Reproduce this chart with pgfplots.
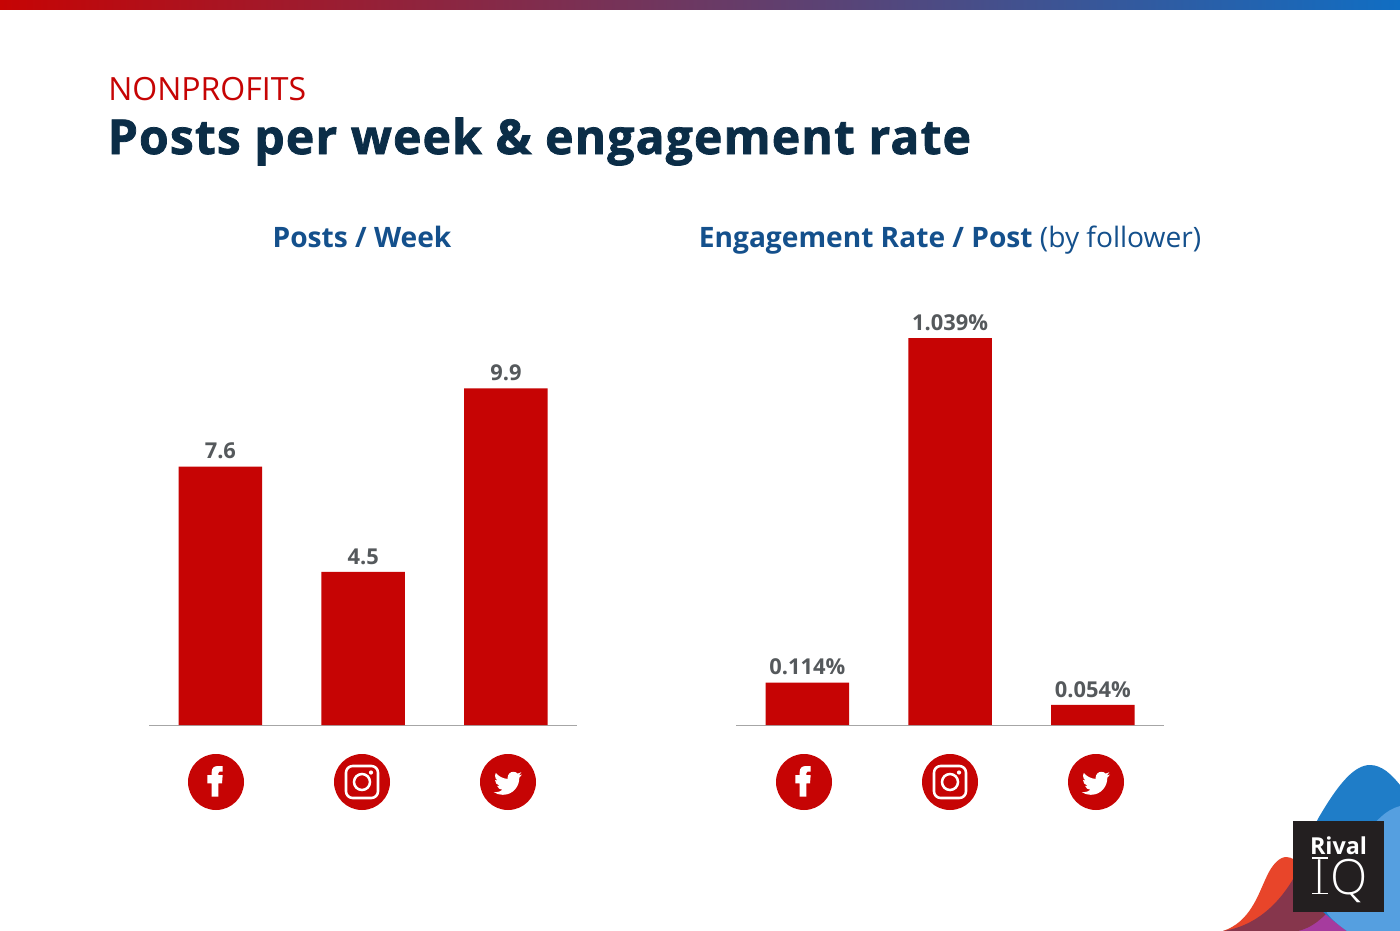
\documentclass[border=0pt]{standalone}
\usepackage{pgfplots}
\pgfplotsset{compat=1.18}
\usepackage{fontspec}
\usetikzlibrary{svg.path}
\setmainfont{Open Sans}
\newfontfamily\xbold[BoldFeatures={FakeBold=1.6,LetterSpace=2.4}]{Open Sans}
\newfontfamily\lightf{Open Sans Light}
\definecolor{barred}{HTML}{C60404}
\definecolor{navy}{HTML}{0B2D47}
\definecolor{sub}{HTML}{14508C}
\definecolor{lbl}{HTML}{55595C}
\newcommand{\fs}[1]{\fontsize{#1}{#1}\selectfont}
\pgfplotstableread{
x y
0 7.6
1 4.5
2 9.9
}\postsdata
\pgfplotstableread{
x y
0 0.114
1 1.039
2 0.054
}\engdata
\pgfplotsset{bars/.style={
  scale only axis, width=321.2pt, height=326.25pt,
  xmin=-0.5, xmax=2.5, ymin=0,
  axis x line=bottom, axis y line=none,
  axis line style={draw=black!35, line width=0.75pt, -},
  xtick=\empty, ytick=\empty, clip=false,
  /pgf/number format/assume math mode=true,
  nodes near coords style={font=\fs{16.4}\bfseries, text=lbl, inner sep=0pt, yshift=5.5pt, anchor=south},
}}
\newcommand{\fbicon}[2]{%
 \fill[barred] (#1,#2) circle (28);
 \begin{scope}[shift={(#1,#2)}]
 \fill[white] (-4.3,14.7) -- (-4.3,1.3) -- (-8.7,1.3) -- (-8.7,-7) -- (-4.3,-7) -- (-4.3,-10)
   .. controls (-4.3,-14) and (-2,-16) .. (2,-16) -- (6.7,-16) -- (6.7,-10.3) -- (3.5,-10.3)
   .. controls (2.6,-10.3) and (2.3,-10) .. (2.3,-9) -- (2.3,-7) -- (6.7,-7) -- (6,1.3) -- (2.3,1.3) -- (2.3,14.7) -- cycle;
 \end{scope}}
\newcommand{\igicon}[2]{%
 \fill[barred] (#1,#2) circle (28);
 \begin{scope}[shift={(#1,#2)}]
 \draw[white, line width=1.9pt, rounded corners=5pt] (-16,-16) rectangle (16,16);
 \draw[white, line width=1.9pt] (0,0) circle (8);
 \fill[white] (9,-9.5) circle (2.1);
 \end{scope}}
\newsavebox{\birdbox}
\newcommand{\twicon}[2]{%
 \fill[barred] (#1,#2) circle (28);
 \node[inner sep=0pt] at (#1,#2+1.3) {\usebox{\birdbox}};}
\begin{document}
\sbox{\birdbox}{\begin{tikzpicture}
 \fill[white, xscale=0.0415, yscale=-0.0415] svg {M459.37 151.716c.325 4.548.325 9.097.325 13.645 0 138.72-105.583 298.558-298.558 298.558-59.452 0-114.68-17.219-161.137-47.106 8.447.974 16.568 1.299 25.34 1.299 49.055 0 94.213-16.568 130.274-44.832-46.132-.975-84.792-31.188-98.112-72.772 6.498.974 12.995 1.624 19.818 1.624 9.421 0 18.843-1.3 27.614-3.573-48.081-9.747-84.143-51.98-84.143-102.985v-1.299c13.969 7.797 30.214 12.67 47.431 13.319-28.264-18.843-46.781-51.005-46.781-87.391 0-19.492 5.197-37.36 14.294-52.954 51.655 63.675 129.3 105.258 216.365 109.807-1.624-7.797-2.599-15.918-2.599-24.04 0-57.828 46.782-104.934 104.934-104.934 30.213 0 57.502 12.67 76.67 33.137 23.715-4.548 46.456-13.32 66.599-25.34-7.798 24.366-24.366 44.833-46.132 57.827 21.117-2.273 41.584-8.122 60.426-16.243-14.292 20.791-32.161 39.308-52.628 54.253z};
\end{tikzpicture}}%
\begin{tikzpicture}
\begin{scope}[x=0.75pt,y=-0.75pt]
 \fill[white] (0,0) rectangle (1400,931);
 \shade[shading=axis, left color=barred, middle color={rgb,255:red,130;green,40;blue,75}, right color={rgb,255:red,16;green,110;blue,195}] (0,0) rectangle (1400,10);
 \node[anchor=base west, inner sep=0pt, text=barred] at (108,100) {\fs{24}NONPROFITS};
 \node[anchor=base west, inner sep=0pt, text=navy] at (107.5,154) {\xbold\bfseries\fs{36}Posts per week \& engagement rate};
 \node[anchor=base, inner sep=0pt, text=sub] at (362,247.5) {\fs{21.1}\bfseries Posts / Week};
 \node[anchor=base, inner sep=0pt, text=sub] at (950,247.5) {\fs{21.1}\textbf{Engagement Rate / Post} (by follower)};
 \fbicon{216}{782}\igicon{362}{782}\twicon{508}{782}
 \fbicon{804}{782}\igicon{950}{782}\twicon{1096}{782}
 % logo artwork
 \begin{scope}
 \clip (0,0) rectangle (1400,931);
 \fill[fill={rgb,255:red,232;green,69;blue,42}] (1223,931) .. controls (1250,922) and (1258,895) .. (1266,878) .. controls (1272,864) and (1280,857) .. (1286,857) .. controls (1296,857) and (1310,870) .. (1320,890) -- (1320,931) -- cycle;
 \fill[fill={rgb,255:red,166;green,59;blue,158}] (1290,931) -- (1327,905) -- (1350,931) -- cycle;
 \fill[fill={rgb,255:red,134;green,54;blue,76}] (1223,931) .. controls (1262,925) and (1285,895) .. (1297,872) -- (1327,913) .. controls (1318,922) and (1310,928) .. (1298,931) -- cycle;
 \fill[fill={rgb,255:red,31;green,125;blue,200}] (1300,880) .. controls (1303,850) and (1312,828) .. (1322,812) .. controls (1340,782) and (1355,765) .. (1370,765) .. controls (1382,765) and (1392,775) .. (1400,785) -- (1400,931) -- (1347,931) .. controls (1330,918) and (1305,900) .. (1300,880) -- cycle;
 \fill[fill={rgb,255:red,85;green,159;blue,224}] (1400,806) .. controls (1385,810) and (1375,822) .. (1365,835) .. controls (1340,865) and (1318,885) .. (1327,913) .. controls (1332,920) and (1340,926) .. (1347,931) -- (1400,931) -- cycle;
 \end{scope}
 \fill[fill={rgb,255:red,35;green,31;blue,32}] (1293,821) rectangle (1384,912);
 \node[anchor=base, inner sep=0pt, text=white] at (1338.5,854) {\fs{17.5}\bfseries Rival};
 \node[anchor=base, inner sep=0pt, text=white] at (1320,894) {\lightf\fs{36.5}I};
 \node[anchor=base, inner sep=0pt, text=white] at (1349,894) {\lightf\fs{36.5}Q};
 \draw[white, line width=1.1pt] (1312,858) -- (1328,858) (1312,893.5) -- (1328,893.5);
\end{scope}
\begin{axis}[bars, at={(111.75pt,-543.75pt)}, anchor=south west, ymax=12.79, nodes near coords={\pgfmathprintnumber[fixed,fixed zerofill,precision=1]{\pgfplotspointmeta}}]
 \addplot[ybar, bar width=62.6pt, fill=barred, draw=none] table[x=x,y=y] {\postsdata};
\end{axis}
\begin{axis}[bars, at={(552pt,-543.75pt)}, anchor=south west, ymax=1.168, nodes near coords={\pgfmathprintnumber[fixed,fixed zerofill,precision=3]{\pgfplotspointmeta}\%}]
 \addplot[ybar, bar width=62.6pt, fill=barred, draw=none] table[x=x,y=y] {\engdata};
\end{axis}
\end{tikzpicture}
\end{document}
